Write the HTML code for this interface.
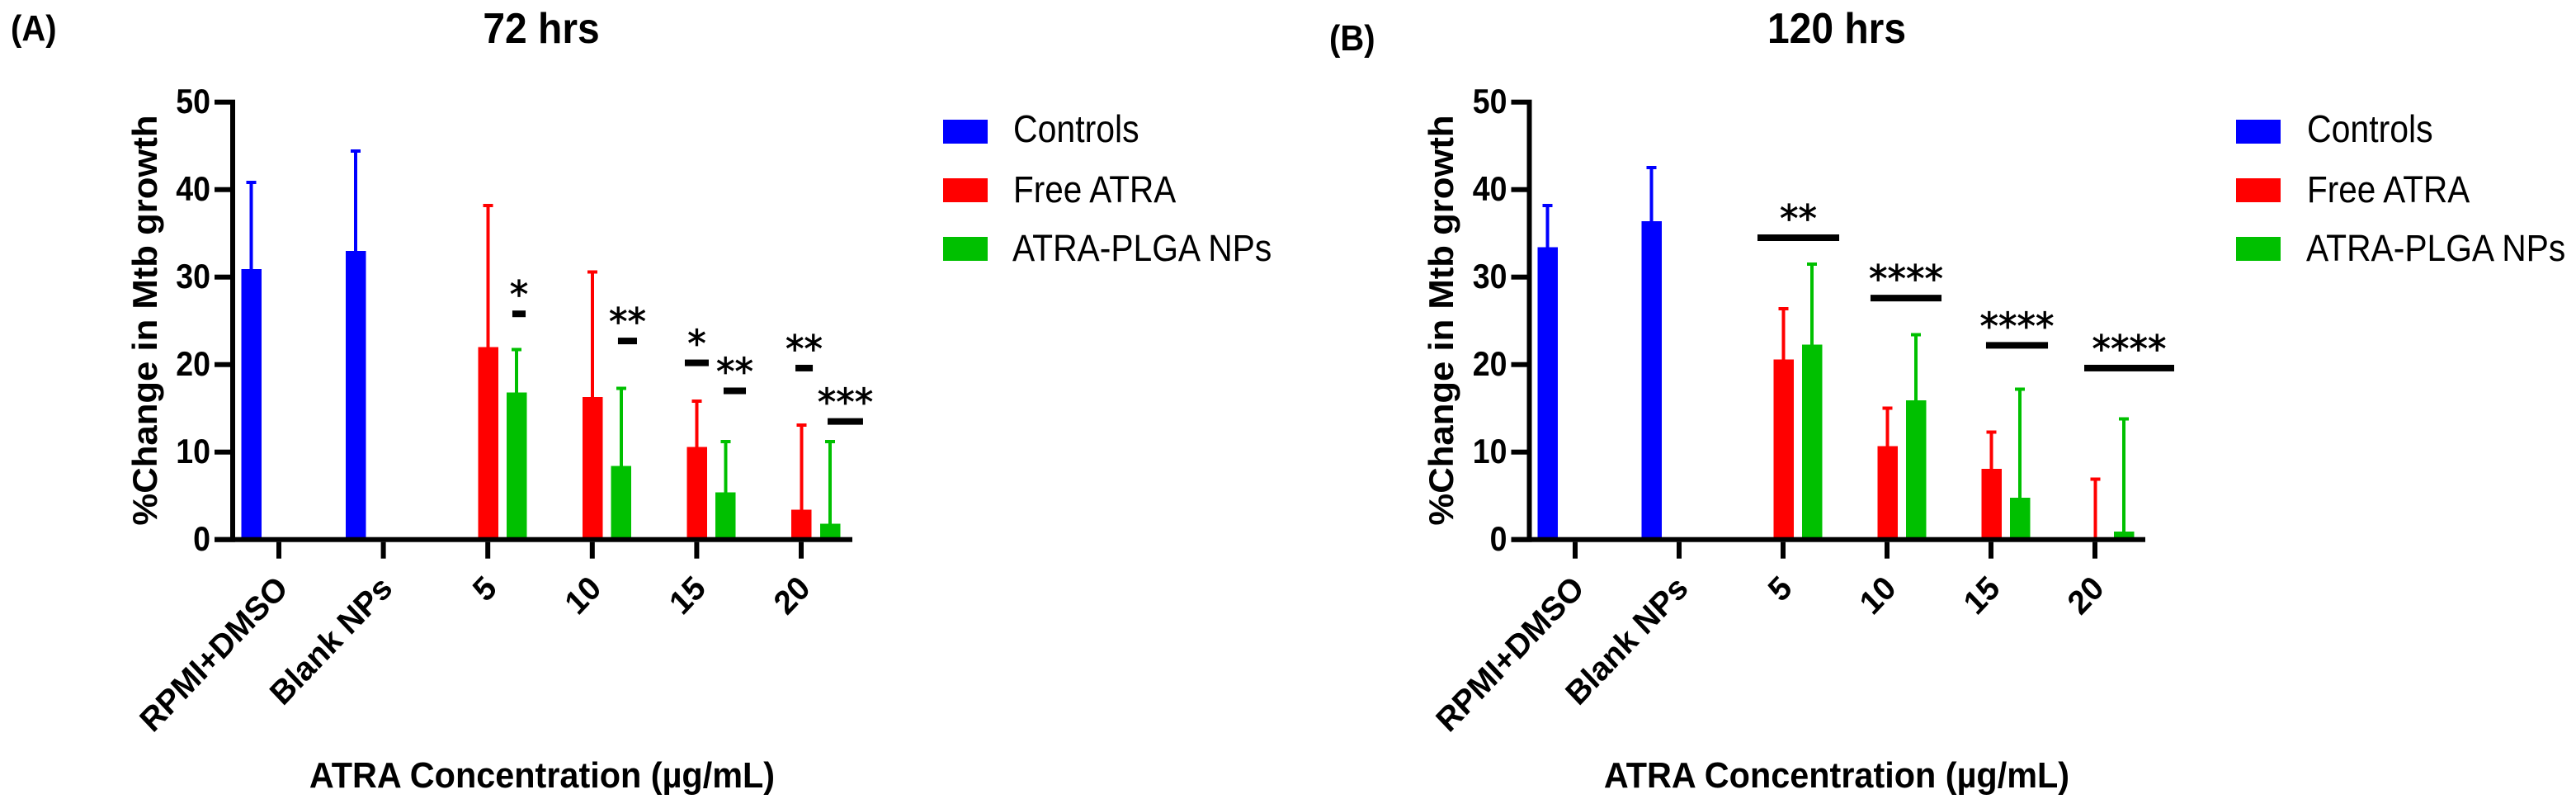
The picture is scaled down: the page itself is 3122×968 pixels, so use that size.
<!DOCTYPE html>
<html lang="en">
<head>
<meta charset="utf-8">
<title>%Change in Mtb growth at 72 and 120 hrs</title>
<style>
  html, body { margin: 0; padding: 0; background: #fff; }
  body { width: 3122px; height: 968px; overflow: hidden; }
  svg { display: block; }
  text { font-family: "Liberation Sans", Arial, sans-serif; fill: #000; }
  .b { font-weight: bold; }
  .star { font-family: "DejaVu Sans", sans-serif; font-size: 45px; stroke: #000; stroke-width: 0.8px; }
</style>
</head>
<body>
<svg id="figure" xmlns="http://www.w3.org/2000/svg" width="3122" height="968" viewBox="0 0 3122 968">
  <rect x="0" y="0" width="3122" height="968" fill="#fff"/>

  <text class="b" font-size="40" transform="translate(13,49) scale(1,1.1)">(A)</text>
  <text class="b" font-size="48" text-anchor="middle" transform="translate(656,52) scale(1,1.08)">72 hrs</text>
  <text class="b" font-size="42" text-anchor="middle" transform="translate(190,388) scale(1,1.04) rotate(-90)" id="ytitle-a">%Change in Mtb growth</text>
  <text class="b" font-size="41.4" text-anchor="middle" transform="translate(657,954) scale(1,1.05)">ATRA Concentration (µg/mL)</text>

  <text class="b" font-size="40" transform="translate(1611,61) scale(1,1.1)">(B)</text>
  <text class="b" font-size="48" text-anchor="middle" transform="translate(2226,52) scale(1,1.08)">120 hrs</text>
  <text class="b" font-size="42" text-anchor="middle" transform="translate(1761,388) scale(1,1.04) rotate(-90)" id="ytitle-b">%Change in Mtb growth</text>
  <text class="b" font-size="41.4" text-anchor="middle" transform="translate(2226,954) scale(1,1.05)">ATRA Concentration (µg/mL)</text>

  <g>
    <rect x="1143" y="145" width="54" height="29" fill="#0000ff"/>
    <text font-size="41" transform="translate(1228,172) scale(1,1.12)">Controls</text>
    <rect x="1143" y="216" width="54" height="29" fill="#ff0000"/>
    <text font-size="40.5" transform="translate(1228,245) scale(1,1.12)">Free ATRA</text>
    <rect x="1143" y="287" width="54" height="29" fill="#00c000"/>
    <text font-size="40.8" transform="translate(1227,316) scale(1,1.12)">ATRA-PLGA NPs</text>
  </g>
  <g>
    <rect x="2710" y="145" width="54" height="29" fill="#0000ff"/>
    <text font-size="41" transform="translate(2796,172) scale(1,1.12)">Controls</text>
    <rect x="2710" y="216" width="54" height="29" fill="#ff0000"/>
    <text font-size="40.5" transform="translate(2796,245) scale(1,1.12)">Free ATRA</text>
    <rect x="2710" y="287" width="54" height="29" fill="#00c000"/>
    <text font-size="40.8" transform="translate(2795,316) scale(1,1.12)">ATRA-PLGA NPs</text>
  </g>
</svg>

<script>
// Shared axis data
const categories = ['RPMI+DMSO', 'Blank NPs', '5', '10', '15', '20'];
const yTickValues = [0, 10, 20, 30, 40, 50];

// Panel A: 72 hrs (means and upper error sizes, in % change)
const controls72 = [30.9, 33.0, null, null, null, null];
const controls72Err = [9.9, 11.4, null, null, null, null];
const free72 = [null, null, 22.0, 16.3, 10.6, 3.4];
const free72Err = [null, null, 16.2, 14.3, 5.2, 9.7];
const nps72 = [null, null, 16.8, 8.4, 5.4, 1.8];
const nps72Err = [null, null, 4.9, 8.9, 5.8, 9.4];

// Panel A significance annotations (level in % change, span in category units)
const sig72Labels = ['*', '**', '*', '**', '**', '***'];
const sig72Levels = [25.8, 22.7, 20.2, 17.0, 19.6, 13.5];
const sig72From = [2.235, 3.246, 3.886, 4.257, 4.945, 5.253];
const sig72To = [2.362, 3.428, 4.115, 4.471, 5.111, 5.592];

// Panel B: 120 hrs
const controls120 = [33.4, 36.4, null, null, null, null];
const controls120Err = [4.8, 6.1, null, null, null, null];
const free120 = [null, null, 20.6, 10.7, 8.1, 0];
const free120Err = [null, null, 5.8, 4.3, 4.2, 6.9];
const nps120 = [null, null, 22.3, 15.9, 4.8, 0.9];
const nps120Err = [null, null, 9.2, 7.5, 12.4, 12.9];

// Panel B significance annotations
const sig120Labels = ['**', '****', '****', '****'];
const sig120Levels = [34.5, 27.6, 22.2, 19.6];
const sig120From = [1.754, 2.841, 3.952, 4.897];
const sig120To = [2.540, 3.524, 4.548, 5.762];

const SVG_NS = 'http://www.w3.org/2000/svg';
const root = document.getElementById('figure');

function make(parent, tag, attrs, name) {
  const el = document.createElementNS(SVG_NS, tag);
  for (const k in attrs) el.setAttribute(k, attrs[k]);
  
  
  parent.appendChild(el);
  return el;
}

function drawPanel(cfg) {
  const y0 = 653.7, pxPerUnit = 10.6;
  const yScale = v => y0 - v * pxPerUnit;
  const xScale = c => cfg.tick0 + c * cfg.step;
  const axisX = cfg.axisX;

  const g = make(root, 'g', {}, 'chart-' + cfg.id);

  // bars and error bars
  const barW = 24.5, lineW = 4, capW = 12, capH = 4;
  cfg.series.forEach(s => {
    s.values.forEach((v, i) => {
      if (v === null) return;
      const cx = xScale(i) + s.offset;
      const top = yScale(v);
      const errTop = yScale(v + s.errors[i]);
      make(g, 'rect', { x: cx - barW / 2, y: top, width: barW, height: Math.max(0, y0 - top), fill: s.color, 'shape-rendering': 'crispEdges' }, 'bar-' + s.key + '-' + categories[i].toLowerCase().replace(/[^a-z0-9]+/g, '-'));
      make(g, 'rect', { x: cx - lineW / 2, y: errTop, width: lineW, height: Math.max(0, top - errTop), fill: s.color, 'shape-rendering': 'crispEdges' }, 'error-bar-' + s.key);
      make(g, 'rect', { x: cx - capW / 2, y: errTop - capH / 2, width: capW, height: capH, fill: s.color, 'shape-rendering': 'crispEdges' }, 'error-cap-' + s.key);
    });
  });

  // axes
  make(g, 'rect', { x: axisX, y: yScale(50) - 3, width: 6, height: y0 + 3 - (yScale(50) - 3), fill: '#000' }, 'y-axis-line');
  make(g, 'rect', { x: axisX - 19, y: y0 - 3, width: cfg.axisEnd - (axisX - 19), height: 6, fill: '#000' }, 'x-axis-line');

  yTickValues.forEach(t => {
    make(g, 'rect', { x: axisX - 19, y: yScale(t) - 3, width: 19, height: 6, fill: '#000' }, 'y-tick-' + t);
    const label = make(g, 'text', { 'text-anchor': 'end', 'font-size': 37.5, 'font-weight': 'bold', transform: 'translate(' + (axisX - 24) + ',' + (yScale(t) + 13.5) + ') scale(1,1.12)' }, 'y-tick-label-' + t);
    label.textContent = String(t);
  });

  categories.forEach((c, i) => {
    const x = xScale(i);
    make(g, 'rect', { x: x - 3, y: y0 + 3, width: 6, height: 20, fill: '#000' }, 'x-tick');
    const label = make(g, 'text', { 'text-anchor': 'end', 'font-size': 38.5, 'font-weight': 'bold', transform: 'translate(' + (x + 13) + ',715) scale(1,1.05) rotate(-45)' }, 'x-tick-label');
    label.textContent = c;
  });

  // significance bars and stars
  cfg.sigLabels.forEach((lab, i) => {
    const xa = xScale(cfg.sigFrom[i]);
    const xb = xScale(cfg.sigTo[i]);
    const yc = yScale(cfg.sigLevels[i]);
    make(g, 'rect', { x: xa, y: yc - 4, width: xb - xa, height: 8, fill: '#000' }, 'significance-bar');
    const star = make(g, 'text', { class: 'star', 'text-anchor': 'middle', x: (xa + xb) / 2, y: yc - 31 + 23.5 }, 'significance-stars');
    star.textContent = lab;
  });
}

drawPanel({
  id: 'a', tick0: 338, step: 126.6, axisX: 279, axisEnd: 1033,
  sigLabels: sig72Labels, sigLevels: sig72Levels, sigFrom: sig72From, sigTo: sig72To,
  series: [
    { key: 'controls', color: '#0000ff', offset: -33.5, values: controls72, errors: controls72Err },
    { key: 'free-atra', color: '#ff0000', offset: 0.3, values: free72, errors: free72Err },
    { key: 'atra-plga-nps', color: '#00c000', offset: 35, values: nps72, errors: nps72Err }
  ]
});

drawPanel({
  id: 'b', tick0: 1909, step: 126, axisX: 1850.5, axisEnd: 2600,
  sigLabels: sig120Labels, sigLevels: sig120Levels, sigFrom: sig120From, sigTo: sig120To,
  series: [
    { key: 'controls', color: '#0000ff', offset: -33.5, values: controls120, errors: controls120Err },
    { key: 'free-atra', color: '#ff0000', offset: 0.5, values: free120, errors: free120Err },
    { key: 'atra-plga-nps', color: '#00c000', offset: 35, values: nps120, errors: nps120Err }
  ]
});
</script>
</body>
</html>
